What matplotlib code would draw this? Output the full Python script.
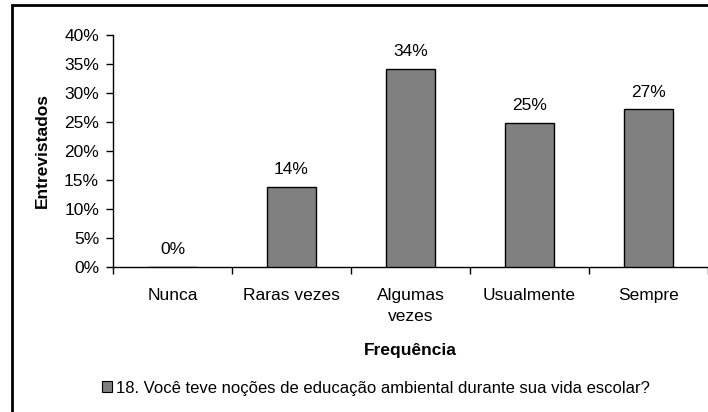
import matplotlib
matplotlib.use("Agg")
import matplotlib.pyplot as plt
from matplotlib.patches import Rectangle, Patch
from matplotlib.ticker import FuncFormatter, FixedLocator

plt.rcParams['font.family'] = ['Liberation Sans', 'DejaVu Sans']

categories = ["Nunca", "Raras vezes", "Algumas\nvezes", "Usualmente", "Sempre"]
values = [0.0, 13.8, 34.2, 24.9, 27.2]
series_name = "18. Você teve noções de educação ambiental durante sua vida escolar?"
yticks = [0, 5, 10, 15, 20, 25, 30, 35, 40]

FS = 12.5
W, H = 708, 412
fig = plt.figure(figsize=(W / 100, H / 100), dpi=100)
ax = fig.add_axes([113 / W, 1 - 267 / H, (708 - 113) / W, (267 - 35) / H])

x = list(range(len(categories)))
ax.bar(x, values, width=0.42, color="#808080", edgecolor="black", linewidth=1.0, zorder=3)

for xi, v in zip(x, values):
    ax.annotate(f"{v:.0f}%", (xi, v), xytext=(0, 7), textcoords="offset points",
                ha="center", va="bottom", fontsize=FS)

ax.set_xlim(-0.5, len(categories) - 0.5)
ax.set_ylim(0, 40)
ax.set_yticks(yticks)
ax.yaxis.set_major_formatter(FuncFormatter(lambda v, p: f"{v:.0f}%"))
ax.xaxis.set_major_locator(FixedLocator([i - 0.5 for i in range(len(categories) + 1)]))
ax.xaxis.set_major_formatter(FuncFormatter(lambda v, p: ""))
ax.set_xticks(x, minor=True)
ax.set_xticklabels(categories, minor=True, linespacing=1.5)
ax.tick_params(axis="x", which="minor", length=0, pad=15, labelsize=FS)
ax.tick_params(axis="x", which="major", length=5, direction="out", width=1)
ax.tick_params(axis="y", length=5, direction="out", width=1, labelsize=FS, pad=5)

for s in ["top", "right"]:
    ax.spines[s].set_visible(False)
for s in ["left", "bottom"]:
    ax.spines[s].set_color("black")
    ax.spines[s].set_linewidth(1)

fig.text(42 / W, 1 - 151 / H, "Entrevistados", rotation=90, ha="center", va="center",
         fontsize=FS, fontweight="bold")
fig.text(410 / W, 1 - 350 / H, "Frequência", ha="center", va="center",
         fontsize=FS, fontweight="bold")

handle = Patch(facecolor="#808080", edgecolor="black", linewidth=0.8)
fig.legend([handle], [series_name], loc="center", bbox_to_anchor=(376 / W, 1 - 388 / H),
           frameon=False, fontsize=12, handlelength=0.6, handleheight=0.6,
           handletextpad=0.25)

fig.patches.append(Rectangle((12 / W, -0.1), 1.2, 1 - 5 / H + 0.1, transform=fig.transFigure,
                             fill=False, edgecolor="black", linewidth=2, figure=fig))

fig.savefig("out.png", dpi=100)
